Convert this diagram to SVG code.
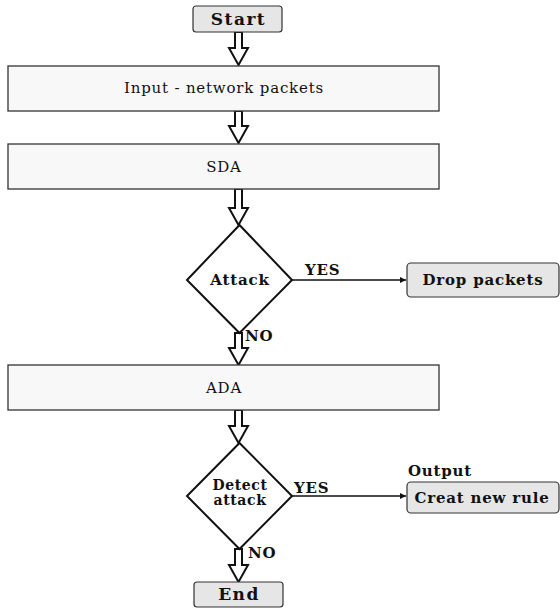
<svg xmlns="http://www.w3.org/2000/svg" width="560" height="608" viewBox="0 0 560 608">
  <defs>
    <style>
      .proc { fill: #f8f8f8; stroke: #333; stroke-width: 1.3; }
      .term { fill: #e6e6e6; stroke: #333; stroke-width: 1.2; }
      .dec { fill: #ffffff; stroke: #111; stroke-width: 2; stroke-linejoin: miter; }
      .blk { fill: #ffffff; stroke: #111; stroke-width: 2; stroke-linejoin: miter; }
      .line { fill: none; stroke: #111; stroke-width: 1.6; }
      text { font-family: "DejaVu Serif", "Liberation Serif", serif; fill: #111; }
      .reg { font-size: 15px; letter-spacing: 0.8px; text-anchor: middle; }
      .bold { font-size: 15px; font-weight: bold; letter-spacing: 0.8px; text-anchor: middle; }
      .two { font-size: 14px; font-weight: bold; letter-spacing: 0.6px; text-anchor: middle; }
      .big { font-size: 17px; font-weight: bold; letter-spacing: 1.5px; text-anchor: middle; }
      .lbl { font-size: 15px; font-weight: bold; letter-spacing: 0.8px; }
    </style>
    <marker id="head" viewBox="0 0 10 10" refX="10" refY="5" markerWidth="8" markerHeight="6" markerUnits="userSpaceOnUse" orient="auto">
      <path d="M0,0 L10,5 L0,10 Z" fill="#111"/>
    </marker>
  </defs>

  <!-- block arrows and connectors -->
  <g id="connectors">
    <path class="blk" d="M235,32 V48 H229 L238.5,65 L248,48 H242 V32 Z"/>
    <path class="blk" d="M235,111 V126 H229 L238.5,143 L248,126 H242 V111 Z"/>
    <path class="blk" d="M235,189 V208 H229 L238.5,225 L248,208 H242 V189 Z"/>
    <path class="blk" d="M235,333 V348 H229 L238.5,365 L248,348 H242 V333 Z"/>
    <path class="blk" d="M235,410 V426 H229 L238.5,443 L248,426 H242 V410 Z"/>
    <path class="blk" d="M235,549 V565 H229 L238.5,582 L248,565 H242 V549 Z"/>
    <line class="line" x1="292" y1="280" x2="406" y2="280" marker-end="url(#head)"/>
    <line class="line" x1="292" y1="496" x2="406" y2="496" marker-end="url(#head)"/>
    <text class="lbl" x="305" y="275">YES</text>
    <text class="lbl" x="245" y="341">NO</text>
    <text class="lbl" x="294" y="493">YES</text>
    <text class="lbl" x="248" y="558">NO</text>
  </g>

  <g id="start">
    <rect class="term" x="193" y="6" width="89" height="26" rx="3"/>
    <text class="big" x="238.5" y="25">Start</text>
  </g>

  <g id="input">
    <rect class="proc" x="8" y="66" width="431" height="45"/>
    <text class="reg" x="224" y="93">Input - network packets</text>
  </g>

  <g id="sda">
    <rect class="proc" x="8" y="144" width="431" height="45"/>
    <text class="reg" x="224" y="172">SDA</text>
  </g>

  <g id="attack">
    <path class="dec" d="M239.5,225 L292,280 L239.5,333 L187,280 Z"/>
    <text class="bold" x="240" y="285">Attack</text>
  </g>

  <g id="drop">
    <rect class="term" x="407" y="263" width="152" height="34" rx="4"/>
    <text class="bold" x="483" y="285">Drop packets</text>
  </g>

  <g id="ada">
    <rect class="proc" x="8" y="365" width="431" height="45"/>
    <text class="reg" x="224" y="393">ADA</text>
  </g>

  <g id="detect">
    <path class="dec" d="M239.5,443 L292,496 L239.5,549 L187,496 Z"/>
    <text class="two" x="240" y="490">Detect</text>
    <text class="two" x="240" y="505">attack</text>
  </g>

  <g id="rule">
    <text class="lbl" x="408" y="476">Output</text>
    <rect class="term" x="407" y="482" width="152" height="31" rx="4"/>
    <text class="bold" x="482" y="503">Creat new rule</text>
  </g>

  <g id="end">
    <rect class="term" x="194" y="582" width="89" height="25" rx="3"/>
    <text class="big" x="239" y="600">End</text>
  </g>
</svg>
